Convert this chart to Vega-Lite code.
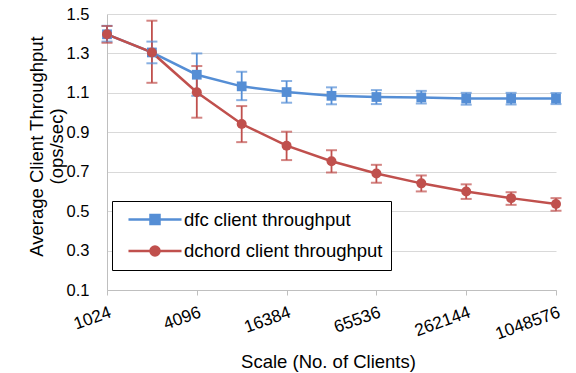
{
  "$schema": "https://vega.github.io/schema/vega-lite/v6.json",
  "width": 449,
  "height": 276,
  "autosize": "none",
  "padding": {"left": 107, "top": 14, "right": 20, "bottom": 83},
  "background": "white",
  "config": {
    "font": "Liberation Sans",
    "view": {"stroke": null},
    "axis": {
      "labelFont": "Liberation Sans",
      "labelFontSize": 16.5,
      "labelColor": "#000000",
      "labelOverlap": false,
      "titleFont": "Liberation Sans",
      "titleFontSize": 18.5,
      "titleFontWeight": "normal",
      "titleColor": "#000000",
      "domainColor": "#BFBFBF",
      "domainWidth": 1,
      "tickColor": "#BFBFBF",
      "gridColor": "#D9D9D9",
      "gridWidth": 1
    },
    "axisY": {"grid": true, "ticks": false},
    "axisX": {"grid": false}
  },
  "data": {
    "values": [
      {"series": "dfc client throughput", "n": 1024, "value": 1.397, "lo": 1.36, "hi": 1.44},
      {"series": "dfc client throughput", "n": 2048, "value": 1.305, "lo": 1.25, "hi": 1.36},
      {"series": "dfc client throughput", "n": 4096, "value": 1.192, "lo": 1.085, "hi": 1.30},
      {"series": "dfc client throughput", "n": 8192, "value": 1.133, "lo": 1.063, "hi": 1.207},
      {"series": "dfc client throughput", "n": 16384, "value": 1.104, "lo": 1.05, "hi": 1.16},
      {"series": "dfc client throughput", "n": 32768, "value": 1.085, "lo": 1.042, "hi": 1.128},
      {"series": "dfc client throughput", "n": 65536, "value": 1.079, "lo": 1.043, "hi": 1.114},
      {"series": "dfc client throughput", "n": 131072, "value": 1.077, "lo": 1.046, "hi": 1.11},
      {"series": "dfc client throughput", "n": 262144, "value": 1.071, "lo": 1.04, "hi": 1.10},
      {"series": "dfc client throughput", "n": 524288, "value": 1.071, "lo": 1.041, "hi": 1.10},
      {"series": "dfc client throughput", "n": 1048576, "value": 1.071, "lo": 1.043, "hi": 1.099},
      {"series": "dchord client throughput", "n": 1024, "value": 1.397, "lo": 1.354, "hi": 1.439},
      {"series": "dchord client throughput", "n": 2048, "value": 1.305, "lo": 1.151, "hi": 1.466},
      {"series": "dchord client throughput", "n": 4096, "value": 1.103, "lo": 0.974, "hi": 1.236},
      {"series": "dchord client throughput", "n": 8192, "value": 0.942, "lo": 0.85, "hi": 1.033},
      {"series": "dchord client throughput", "n": 16384, "value": 0.832, "lo": 0.759, "hi": 0.903},
      {"series": "dchord client throughput", "n": 32768, "value": 0.753, "lo": 0.696, "hi": 0.809},
      {"series": "dchord client throughput", "n": 65536, "value": 0.691, "lo": 0.644, "hi": 0.735},
      {"series": "dchord client throughput", "n": 131072, "value": 0.641, "lo": 0.6, "hi": 0.681},
      {"series": "dchord client throughput", "n": 262144, "value": 0.6, "lo": 0.562, "hi": 0.636},
      {"series": "dchord client throughput", "n": 524288, "value": 0.566, "lo": 0.532, "hi": 0.596},
      {"series": "dchord client throughput", "n": 1048576, "value": 0.536, "lo": 0.502, "hi": 0.566}
    ]
  },
  "resolve": {"legend": {"color": "independent", "stroke": "independent", "shape": "independent"}},
  "encoding": {
    "x": {
      "field": "n",
      "type": "quantitative",
      "scale": {"type": "log", "base": 2, "domain": [1024, 1048576], "nice": false},
      "axis": {
        "values": [1024, 4096, 16384, 65536, 262144, 1048576],
        "format": "d",
        "labelAngle": -20,
        "labelAlign": "right",
        "labelBaseline": "top",
        "labelFontSize": 17.3,
        "labelPadding": 8,
        "ticks": true,
        "tickSize": 5,
        "title": "Scale (No. of Clients)",
        "titleX": 221,
        "titleY": 77,
        "titleBaseline": "alphabetic",
        "titleAlign": "center"
      }
    },
    "y": {
      "field": "value",
      "type": "quantitative",
      "scale": {"domain": [0.1, 1.5], "nice": false, "zero": false},
      "axis": {
        "values": [0.1, 0.3, 0.5, 0.7, 0.9, 1.1, 1.3, 1.5],
        "format": ".1f",
        "grid": true,
        "ticks": false,
        "labelPadding": 18,
        "title": ["Average Client Throughput", "(ops/sec)"],
        "titleAngle": -90,
        "titleX": -71,
        "titleY": 132,
        "titleAlign": "center",
        "titleBaseline": "middle",
        "titleLineHeight": 20
      }
    },
    "color": {
      "field": "series",
      "type": "nominal",
      "scale": {"domain": ["dfc client throughput", "dchord client throughput"], "range": ["#558ED5", "#C0504D"]},
      "legend": null
    }
  },
  "layer": [
    {
      "mark": {"type": "rule", "strokeWidth": 1.8},
      "encoding": {
        "y": {
          "field": "lo",
          "type": "quantitative",
          "scale": {"domain": [0.1, 1.5], "nice": false, "zero": false},
          "axis": {
            "values": [0.1, 0.3, 0.5, 0.7, 0.9, 1.1, 1.3, 1.5],
            "format": ".1f",
            "grid": true,
            "ticks": false,
            "labelPadding": 18,
            "title": ["Average Client Throughput", "(ops/sec)"],
            "titleAngle": -90,
            "titleX": -71,
            "titleY": 132,
            "titleAlign": "center",
            "titleBaseline": "middle",
            "titleLineHeight": 20
          }
        },
        "y2": {"field": "hi"}
      }
    },
    {
      "transform": [{"fold": ["lo", "hi"], "as": ["cap", "capv"]}],
      "mark": {"type": "tick", "orient": "horizontal", "size": 11, "thickness": 2},
      "encoding": {
        "y": {
          "field": "capv",
          "type": "quantitative",
          "scale": {"domain": [0.1, 1.5], "nice": false, "zero": false},
          "axis": {
            "values": [0.1, 0.3, 0.5, 0.7, 0.9, 1.1, 1.3, 1.5],
            "format": ".1f",
            "grid": true,
            "ticks": false,
            "labelPadding": 18,
            "title": ["Average Client Throughput", "(ops/sec)"],
            "titleAngle": -90,
            "titleX": -71,
            "titleY": 132,
            "titleAlign": "center",
            "titleBaseline": "middle",
            "titleLineHeight": 20
          }
        }
      }
    },
    {"mark": {"type": "line", "strokeWidth": 2.5}},
    {
      "transform": [{"filter": "datum.series === 'dfc client throughput'"}],
      "mark": {"type": "point", "shape": "square", "filled": true, "opacity": 1, "size": 95}
    },
    {
      "transform": [{"filter": "datum.series === 'dchord client throughput'"}],
      "mark": {"type": "point", "shape": "circle", "filled": true, "opacity": 1, "size": 100}
    },
    {
      "transform": [{"filter": "false"}],
      "mark": {"type": "point", "filled": true, "strokeWidth": 2.5},
      "encoding": {
        "color": {
          "field": "series",
          "type": "nominal",
          "scale": {"domain": ["dfc client throughput", "dchord client throughput"], "range": ["#558ED5", "#C0504D"]},
          "legend": {
            "orient": "none",
            "legendX": 5,
            "legendY": 187,
            "title": null,
            "labelFont": "Liberation Sans",
            "labelFontSize": 18.5,
            "labelColor": "#000000",
            "labelLimit": 400,
            "symbolSize": 289,
            "symbolStrokeWidth": 2.5,
            "symbolOpacity": 1,
            "symbolOffset": 24.5,
            "labelOffset": 19,
            "strokeColor": "#000000",
            "fillColor": "#FFFFFF",
            "padding": 8.5,
            "rowPadding": 11.5
          }
        },
        "stroke": {
          "field": "series",
          "type": "nominal",
          "scale": {"domain": ["dfc client throughput", "dchord client throughput"], "range": ["#558ED5", "#C0504D"]},
          "legend": {
            "orient": "none",
            "legendX": 5,
            "legendY": 187,
            "title": null,
            "labelFont": "Liberation Sans",
            "labelFontSize": 18.5,
            "labelColor": "#000000",
            "labelLimit": 400,
            "symbolSize": 289,
            "symbolStrokeWidth": 2.5,
            "symbolOpacity": 1,
            "symbolOffset": 24.5,
            "labelOffset": 19,
            "strokeColor": "#000000",
            "fillColor": "#FFFFFF",
            "padding": 8.5,
            "rowPadding": 11.5
          }
        },
        "shape": {
          "field": "series",
          "type": "nominal",
          "scale": {
            "domain": ["dfc client throughput", "dchord client throughput"],
            "range": [
              "M-3.12,0H3.12M-0.53,-0.53H0.53V0.53H-0.53Z",
              "M-3.12,0H3.12M0.53,0A0.53,0.53,0,1,1,-0.53,0A0.53,0.53,0,1,1,0.53,0Z"
            ]
          },
          "legend": {
            "orient": "none",
            "legendX": 5,
            "legendY": 187,
            "title": null,
            "labelFont": "Liberation Sans",
            "labelFontSize": 18.5,
            "labelColor": "#000000",
            "labelLimit": 400,
            "symbolSize": 289,
            "symbolStrokeWidth": 2.5,
            "symbolOpacity": 1,
            "symbolOffset": 24.5,
            "labelOffset": 19,
            "strokeColor": "#000000",
            "fillColor": "#FFFFFF",
            "padding": 8.5,
            "rowPadding": 11.5
          }
        }
      }
    }
  ]
}
